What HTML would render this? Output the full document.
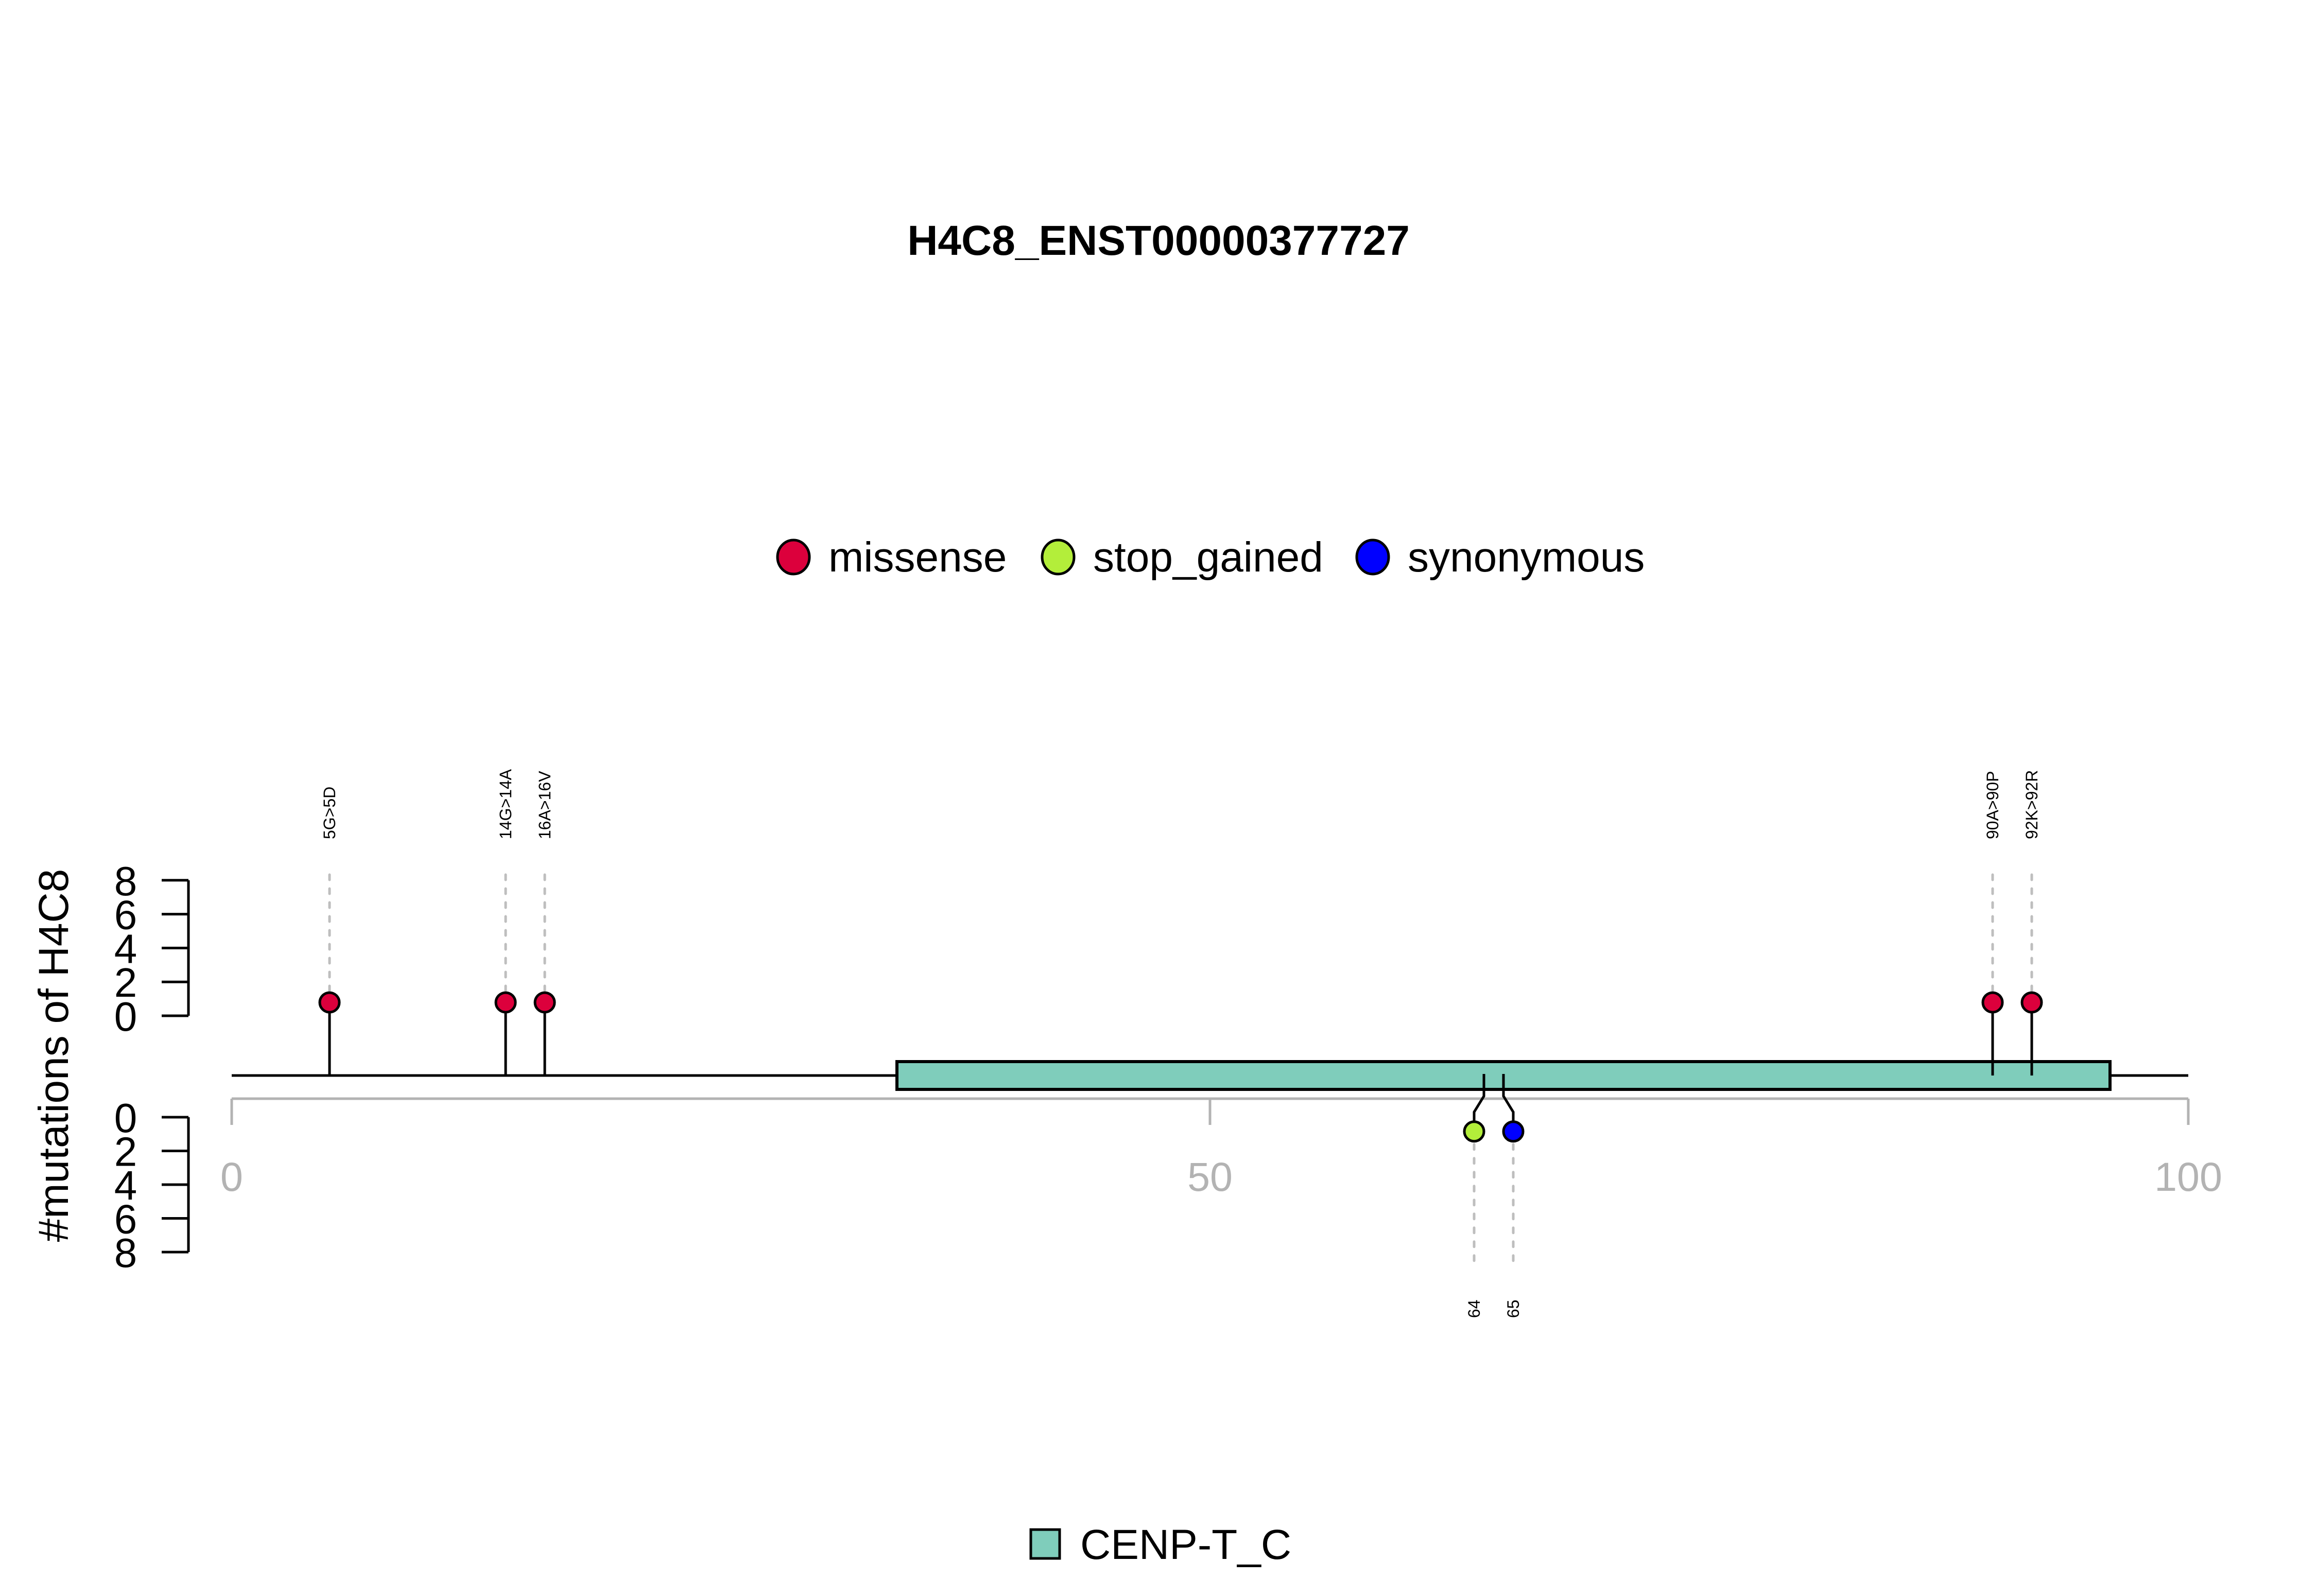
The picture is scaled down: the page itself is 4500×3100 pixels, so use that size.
<!DOCTYPE html>
<html><head><meta charset="utf-8"><style>
html,body{margin:0;padding:0;background:#fff;}
svg{display:block;font-family:"Liberation Sans",Arial,sans-serif;}
</style></head><body>
<svg id="chart" width="4500" height="3100" viewBox="0 0 4500 3100" xmlns="http://www.w3.org/2000/svg">
<rect width="4500" height="3100" fill="#fff"/>
<text x="2250" y="495" font-size="82" font-weight="bold" text-anchor="middle">H4C8_ENST00000377727</text>
<g id="legend"></g>
<text transform="translate(132,2050) rotate(-90)" font-size="82" text-anchor="middle">#mutations of H4C8</text>
<g id="plot"></g>
</svg>
<script>
const xTicks = [0, 50, 100];
const yTicks = [0, 2, 4, 6, 8];
const upPos = [5, 14, 16, 90, 92];
const upLabels = ["5G>5D", "14G>14A", "16A>16V", "90A>90P", "92K>92R"];
const upTypes = ["missense", "missense", "missense", "missense", "missense"];
const upCounts = [1, 1, 1, 1, 1];
const downPos = [64, 65];
const downLabels = ["64", "65"];
const downTypes = ["stop_gained", "synonymous"];
const downCounts = [1, 1];
const domainStart = [34];
const domainEnd = [96];
const domainNames = ["CENP-T_C"];
const legendTypes = ["missense", "stop_gained", "synonymous"];

const colors = {missense:"#dc003c", stop_gained:"#b3ee3a", synonymous:"#0000ff"};
const NS = "http://www.w3.org/2000/svg";
const X = v => 450 + v * 38;
const YU = v => 1973 - v * 32.9;
const YD = v => 2170 + v * 32.75;
const BACK = 2089;
const plot = document.getElementById('plot');
function mk(tag, attrs, parent, text){
  const e = document.createElementNS(NS, tag);
  for (const k in attrs) e.setAttribute(k, attrs[k]);
  if (text !== undefined) e.textContent = text;
  (parent || plot).appendChild(e);
  return e;
}
let e = mk('line', {x1:X(0), x2:X(100), y1:BACK, y2:BACK, stroke:'#000', 'stroke-width':5});


domainStart.forEach((s, i) => {
  const r = mk('rect', {x:X(s), y:2062, width:X(domainEnd[i]) - X(s), height:54, fill:'#7fcdbb', stroke:'#000', 'stroke-width':6});
  
  
});
e = mk('line', {x1:X(0), x2:X(100), y1:2134, y2:2134, stroke:'#b3b3b3', 'stroke-width':5});


xTicks.forEach(t => {
  const l = mk('line', {x1:X(t), x2:X(t), y1:2134, y2:2185, stroke:'#b3b3b3', 'stroke-width':5});
  
  
  const tx = mk('text', {x:X(t), y:2313, 'font-size':79, fill:'#b3b3b3', 'text-anchor':'middle'}, plot, String(t));
  
  
});
[[YU, 'upper'], [YD, 'lower']].forEach(([Y, nm]) => {
  const a = mk('line', {x1:366, x2:366, y1:Y(0), y2:Y(8), stroke:'#000', 'stroke-width':5});
  
  
  yTicks.forEach(t => {
    const l = mk('line', {x1:314, x2:366, y1:Y(t), y2:Y(t), stroke:'#000', 'stroke-width':5});
    
    
    const tx = mk('text', {x:244, y:Y(t) + 29, 'font-size':80, 'text-anchor':'middle'}, plot, String(t));
    
    
  });
});
upPos.forEach((p, i) => {
  const x = X(p), cy = YU(upCounts[i]) + 7;
  const d = mk('line', {x1:x, x2:x, y1:1699, y2:cy - 14, stroke:'#bebebe', 'stroke-width':5, 'stroke-dasharray':'10 17', 'stroke-linecap':'round'});
  
  
  const s = mk('line', {x1:x, x2:x, y1:cy, y2:BACK, stroke:'#000', 'stroke-width':5});
  
  
  const c = mk('circle', {cx:x, cy:cy, r:19, fill:colors[upTypes[i]], stroke:'#000', 'stroke-width':5});
  
  
  const t = mk('text', {transform:'translate(' + (x + 11) + ',1630) rotate(-90)', 'font-size':32}, plot, upLabels[i]);
  
  
});
const mid = (X(downPos[0]) + X(downPos[downPos.length - 1])) / 2;
downPos.forEach((p, i) => {
  const x = X(p);
  const cx = mid + (i - (downPos.length - 1) / 2) * 76;
  const cy = YD(downCounts[i]) - 5;
  const s = mk('polyline', {points:[x,2086, x,2129, cx,2160, cx,cy].join(' '), fill:'none', stroke:'#000', 'stroke-width':5});
  
  
  const d = mk('line', {x1:cx, x2:cx, y1:cy + 25, y2:2450, stroke:'#bebebe', 'stroke-width':5, 'stroke-dasharray':'10 17', 'stroke-linecap':'round'});
  
  
  const c = mk('circle', {cx:cx, cy:cy, r:19, fill:colors[downTypes[i]], stroke:'#000', 'stroke-width':5});
  
  
  const t = mk('text', {transform:'translate(' + (cx + 11) + ',2560) rotate(-90)', 'font-size':32}, plot, downLabels[i]);
  
  
});
const lg = document.getElementById('legend');
const legX = [1541, 2055, 2666];
legendTypes.forEach((tp, i) => {
  const c = mk('ellipse', {cx:legX[i], cy:1082, rx:31, ry:33, fill:colors[tp], stroke:'#000', 'stroke-width':5}, lg);
  
  
  const t = mk('text', {x:legX[i] + 68, y:1110, 'font-size':82}, lg, tp);
  
  
});
domainNames.forEach((n, i) => {
  const r = mk('rect', {x:2002, y:2971, width:56, height:56, fill:'#7fcdbb', stroke:'#000', 'stroke-width':5});
  
  
  const t = mk('text', {x:2098, y:3028, 'font-size':82}, plot, n);
  
  
});
</script>
</body></html>
